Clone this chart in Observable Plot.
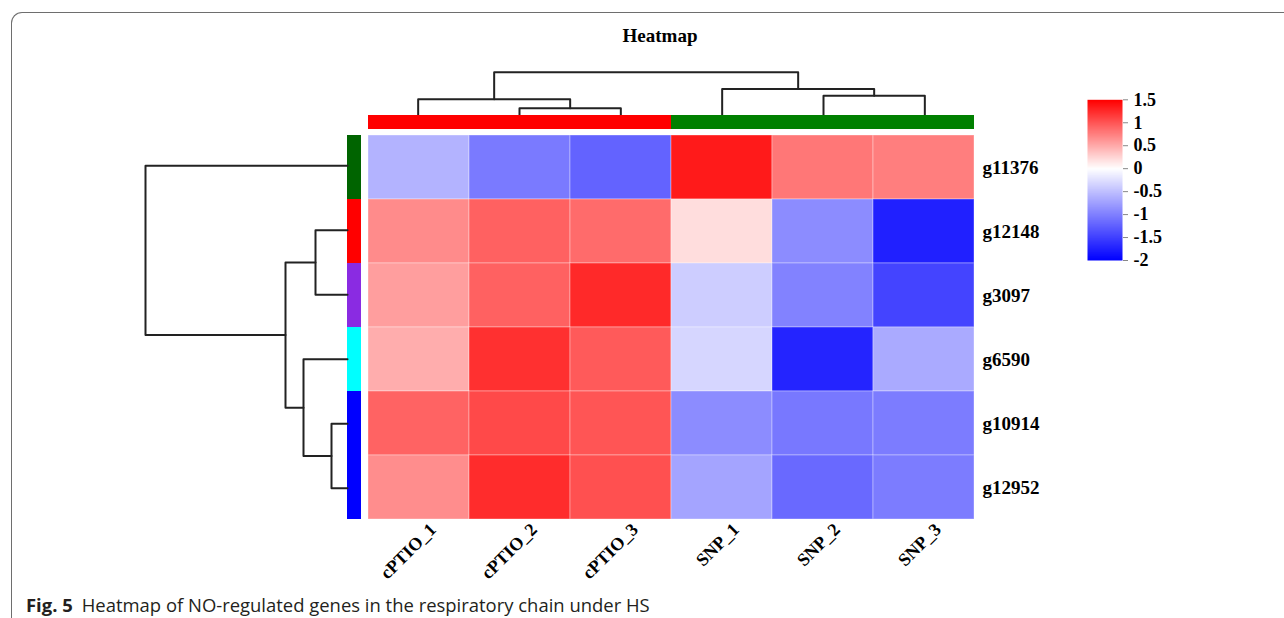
<!DOCTYPE html>
<html><head><meta charset="utf-8">
<script src="https://cdn.jsdelivr.net/npm/d3@7"></script>
<script src="https://cdn.jsdelivr.net/npm/@observablehq/plot@0.6"></script>
<style>
html,body{margin:0;padding:0;background:#fff;}
#fig{position:relative;width:1284px;height:618px;overflow:hidden;background:#fff;}
#fig .layer{position:absolute;left:0;top:0;width:1284px;height:618px;}
#fig .layer svg{position:absolute;left:0;top:0;}
.frame{position:absolute;left:11px;top:12px;width:1300px;height:700px;border-top:1.5px solid #6e6e6e;border-left:1.5px solid #6e6e6e;border-top-left-radius:11px;}
.title{position:absolute;left:0;width:1320px;top:25px;text-align:center;font:bold 19px "Liberation Serif";color:#000;}
.caption{position:absolute;left:26px;top:591.5px;font:18.45px "Open Sans";white-space:nowrap;color:#231f20;}
.caption b{margin-right:9px;}
</style></head><body>
<div id="fig">
  <div class="frame"></div>
  <div class="title">Heatmap</div>
  <div class="layer" id="L1"></div>
  <div class="layer" id="L2"></div>
  <div class="layer" id="L3"></div>
  <div class="layer" id="L4"></div>
  <div class="layer" id="L5"></div>
  <div class="layer" id="L6"></div>
  <div class="caption"><b>Fig. 5</b>Heatmap of NO-regulated genes in the respiratory chain under HS</div>
</div>
<script>
// ---------- data ----------
const samples = ["cPTIO_1","cPTIO_2","cPTIO_3","SNP_1","SNP_2","SNP_3"];
const groups  = ["cPTIO","cPTIO","cPTIO","SNP","SNP","SNP"];
const genes   = ["g11376","g12148","g3097","g6590","g10914","g12952"];
const geneClusters = ["C1","C2","C3","C4","C5","C5"];
const g11376 = [-0.60,-1.04,-1.22, 1.35, 0.80, 0.76];
const g12148 = [ 0.68, 0.93, 0.87, 0.20,-0.90,-1.75];
const g3097  = [ 0.57, 0.93, 1.26,-0.39,-0.98,-1.47];
const g6590  = [ 0.48, 1.22, 0.97,-0.32,-1.72,-0.67];
const g10914 = [ 0.92, 1.07, 1.00,-0.90,-1.06,-1.03];
const g12952 = [ 0.67, 1.24, 1.03,-0.71,-1.18,-1.03];
const rows = [g11376, g12148, g3097, g6590, g10914, g12952];
// dendrogram merges: [childA, childB, height]; leaves 0..5, merged nodes 6..
const colMerges = [[1,2,6.7],[4,5,19.3],[0,6,15.7],[3,7,26],[8,9,43]];
const rowMerges = [[4,5,16],[1,2,32],[3,6,44],[7,8,62],[0,9,202]];
const legendTicks = [1.5,1,0.5,0,-0.5,-1,-1.5,-2];
const colorDomain = [-2,0,1.5];
const colorRange = ["#0000ff","#ffffff","#ff0000"];
const groupColors = ["#ff0000","#008000"];
const clusterColors = ["#006400","#ff0000","#8a2be2","#00ffff","#0000ff"];

// ---------- helpers ----------
const cells = [];
genes.forEach((g,i) => samples.forEach((s,j) => cells.push({gene:g, sample:s, value:rows[i][j]})));
function dendro(n, merges){
  const pos = d3.range(n).map(i => ({c:i+0.5, h:0}));
  const pts = [];
  merges.forEach(([a,b,h],k) => {
    const A = pos[a], B = pos[b];
    pts.push({k,c:A.c,h:A.h},{k,c:A.c,h},{k,c:B.c,h},{k,c:B.c,h:B.h});
    pos.push({c:(A.c+B.c)/2, h});
  });
  return pts;
}
const W = 1284, H = 618;
const base = {width:W, height:H, style:{background:"none", overflow:"visible", fontFamily:"Liberation Serif", color:"#000"}};
const colorScale = {type:"linear", domain:colorDomain, range:colorRange, interpolate:"rgb"};

// heatmap
const heat = Plot.plot({...base,
  marginLeft:367, marginRight:309, marginTop:133, marginBottom:98,
  x:{type:"band", domain:samples, padding:0},
  y:{type:"band", domain:genes, padding:0},
  color:colorScale,
  marks:[
    Plot.cell(cells,{x:"sample", y:"gene", fill:"value", inset:0, stroke:"#fff", strokeOpacity:0.35, strokeWidth:1}),
    Plot.axisX({anchor:"bottom", tickSize:0, tickPadding:6, tickRotate:-45, dx:14, fontSize:18, fontWeight:"bold", label:null}),
    Plot.axisY({anchor:"right", tickSize:0, tickPadding:7, fontSize:19, fontWeight:"bold", label:null})
  ]});
document.getElementById("L1").append(heat);

// top dendrogram
const topD = Plot.plot({...base,
  marginLeft:367, marginRight:309, marginTop:71.7, marginBottom:H-114.5,
  x:{domain:[0,samples.length], axis:null},
  y:{domain:[0,43], axis:null},
  marks:[Plot.line(dendro(samples.length, colMerges),{x:"c", y:"h", z:"k", stroke:"#222", strokeWidth:2})]});
document.getElementById("L2").append(topD);

// top group bar
const topBar = Plot.plot({...base,
  marginLeft:367, marginRight:309, marginTop:115, marginBottom:H-129,
  x:{type:"band", domain:samples, padding:0, axis:null},
  color:{domain:["cPTIO","SNP"], range:groupColors},
  marks:[Plot.cell(samples,{x:d=>d, fill:(d,i)=>groups[i], inset:0})]});
document.getElementById("L3").append(topBar);

// left cluster bar
const leftBar = Plot.plot({...base,
  marginLeft:347, marginRight:W-361, marginTop:133, marginBottom:98,
  y:{type:"band", domain:genes, padding:0, axis:null},
  color:{domain:["C1","C2","C3","C4","C5"], range:clusterColors},
  marks:[Plot.cell(genes,{y:d=>d, fill:(d,i)=>geneClusters[i], inset:0})]});
document.getElementById("L4").append(leftBar);

// left dendrogram
const leftD = Plot.plot({...base,
  marginLeft:145, marginRight:W-347, marginTop:133, marginBottom:98,
  x:{domain:[0,202], reverse:true, axis:null},
  y:{domain:[0,genes.length], reverse:true, axis:null},
  marks:[Plot.line(dendro(genes.length, rowMerges),{x:"h", y:"c", z:"k", stroke:"#222", strokeWidth:2})]});
document.getElementById("L5").append(leftD);

// legend
const legend = Plot.plot({...base,
  marginLeft:1087, marginRight:W-1122, marginTop:99.3, marginBottom:H-260,
  x:{domain:[0,1], axis:null},
  y:{domain:[legendTicks[legendTicks.length-1], legendTicks[0]]},
  color:colorScale,
  marks:[
    Plot.raster({x1:0, x2:1, y1:-2, y2:1.5, width:1, height:200, fill:(x,y)=>y}),
    Plot.axisY({anchor:"right", ticks:legendTicks, tickFormat:d=>String(d), tickSize:5, tickPadding:6, stroke:"#888", fill:"#000", fontSize:18, fontWeight:"bold", label:null})
  ]});
document.getElementById("L6").append(legend);
</script>
</body></html>
